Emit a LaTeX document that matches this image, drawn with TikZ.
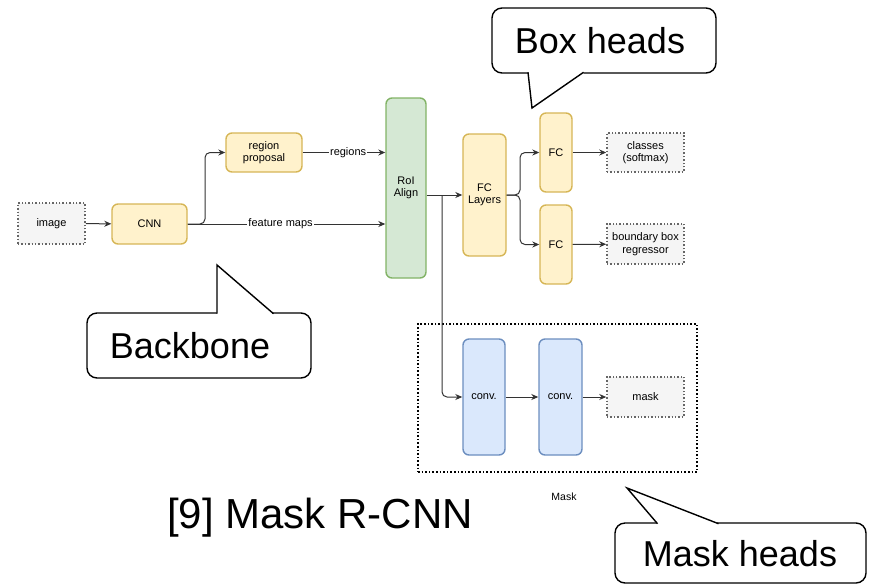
\documentclass[tikz,border=0pt]{standalone}
\usepackage{fontspec}
\setmainfont{Liberation Sans}
\usetikzlibrary{arrows.meta}
\definecolor{yfill}{HTML}{FFF2CC}
\definecolor{ydraw}{HTML}{D6B656}
\definecolor{gfill}{HTML}{D5E8D4}
\definecolor{gdraw}{HTML}{82B366}
\definecolor{bfill}{HTML}{DAE8FC}
\definecolor{bdraw}{HTML}{6C8EBF}
\definecolor{grfill}{HTML}{F5F5F5}
\definecolor{grdraw}{HTML}{666666}
\definecolor{arr}{HTML}{333333}
\tikzset{
  base/.style={align=center, font=\fontsize{11}{12.5}\selectfont, inner sep=1pt, line width=1.4},
  ybox/.style={base, draw=ydraw, fill=yfill, rounded corners=6},
  gbox/.style={base, draw=gdraw, fill=gfill, rounded corners=6},
  bbox/.style={base, draw=bdraw, fill=bfill, rounded corners=6},
  iobox/.style={base, draw=grdraw, fill=grfill, dotted, line width=1.5},
  conn/.style={draw=arr, line width=1, -{Stealth[length=7,width=6]}},
  lbl/.style={font=\fontsize{11}{12}\selectfont, fill=white, inner sep=1pt},
  callout/.style={draw=black, line width=1.4, fill=white},
  ctext/.style={font=\fontsize{36}{40}\selectfont, inner sep=0pt}
}
\begin{document}
\begin{tikzpicture}[x=1pt,y=-1pt]
\useasboundingbox (0,0) rectangle (869,587);

% nodes
\node[iobox, minimum width=67, minimum height=41] (image) at (51.5,223.5) {image};
\node[ybox, minimum width=75, minimum height=40] (cnn) at (149.5,224) {CNN};
\node[ybox, minimum width=76, minimum height=39] (rp) at (264,152.5) {region\\proposal};
\node[gbox, minimum width=40, minimum height=180] (roi) at (406,188) {RoI\\Align};
\node[ybox, minimum width=43, minimum height=122] (fcl) at (484.5,195) {FC\\Layers};
\node[ybox, minimum width=32, minimum height=79] (fc1) at (556,152.5) {FC};
\node[ybox, minimum width=32, minimum height=79] (fc2) at (556,244.5) {FC};
\node[iobox, minimum width=77, minimum height=39] (cls) at (645.5,152.5) {classes\\(softmax)};
\node[iobox, minimum width=77, minimum height=40] (bbr) at (645.5,244) {boundary box\\regressor};

\node[draw=black, dotted, line width=1.6, minimum width=279, minimum height=148, inner sep=0pt] (maskbox) at (557.5,398) {};
\node[bbox, minimum width=42, minimum height=116] (conv1) at (484,397) {conv.};
\node[bbox, minimum width=43, minimum height=116] (conv2) at (560.5,397) {conv.};
\node[iobox, minimum width=77, minimum height=40] (mask) at (645.5,397) {mask};
\node[font=\fontsize{10.5}{12}\selectfont] (masklbl) at (564,497) {Mask};

% connectors
\draw[conn] (image) -- (cnn);
\draw[conn, rounded corners=5] (cnn.east) -- (205,224) |- (rp.west);
\draw[conn] (cnn.east) -- node[lbl, pos=0.47] {feature maps} (roi.west |- cnn.east);
\draw[conn] (rp.east) -- node[lbl, pos=0.55] {regions} (roi.west |- rp.east);
\coordinate (br) at (442,195);
\draw[conn] (roi.east |- fcl.west) -- (fcl.west);
\draw[conn, rounded corners=5] (br) |- (conv1.west);
\draw[conn, rounded corners=5] (fcl.east) -- (520,195) |- (fc1.west);
\draw[conn, rounded corners=5] (fcl.east) -- (520,195) |- (fc2.west);
\draw[conn] (fc1) -- (cls);
\draw[conn] (fc2) -- (bbr);
\draw[conn] (conv1) -- (conv2);
\draw[conn] (conv2) -- (mask);

% title
\node[font=\fontsize{42}{46}\selectfont, inner sep=0pt] (title) at (320,518) {[9] Mask R-CNN};

% callouts
% Box heads
\draw[callout, rounded corners=10] (492,8) rectangle (716,73);
\fill[white] (528.6,71) -- (582.5,71) -- (583.8,74.4) -- (532,108) -- (528.1,74.4) -- cycle;
\draw[callout, fill=none, line join=miter] (528,72.3) -- (532,108) -- (583.5,72.3);
\node[ctext] (boxheads) at (600,41) {Box heads};

% Backbone
\draw[callout, rounded corners=10] (87,313) rectangle (311,378);
\fill[white] (217.8,315) -- (272.5,315) -- (271.8,311.6) -- (217,265) -- (216.4,311.6) -- cycle;
\draw[callout, fill=none, line join=miter] (217,313.7) -- (217,265) -- (273.5,313.7);
\node[ctext] (backbone) at (190,346) {Backbone};

% Mask heads
\draw[callout, rounded corners=10] (615,523) rectangle (866,583);
\fill[white] (657.5,525) -- (717.5,525) -- (716.5,521.6) -- (627,488) -- (656,521.6) -- cycle;
\draw[callout, fill=none, line join=miter] (657.5,523.7) -- (627,488) -- (718.5,523.7);
\node[ctext] (maskheads) at (740,554) {Mask heads};
\end{tikzpicture}
\end{document}
